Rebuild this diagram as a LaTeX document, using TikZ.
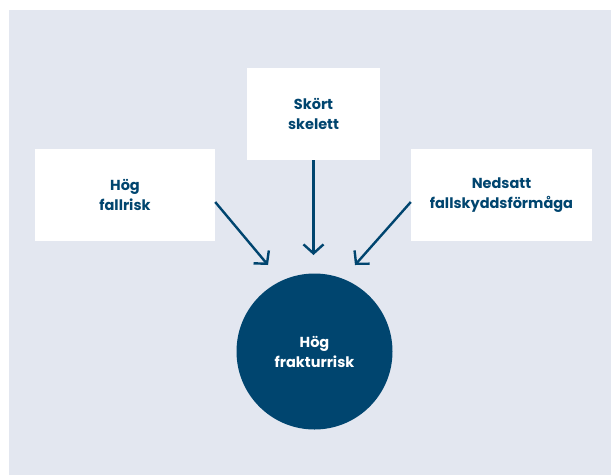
\documentclass[tikz,border=0pt]{standalone}
\usepackage{fontspec}
\setmainfont{Poppins}
\usetikzlibrary{arrows.meta}
\definecolor{bg}{HTML}{E3E7F0}
\definecolor{navy}{HTML}{00456F}
\begin{document}
\begin{tikzpicture}[x=1pt,y=-1pt,
  box/.style={fill=white, draw=none, minimum width=#1, minimum height=92pt, inner sep=0pt,
    align=center, text=navy, font=\fontsize{14.5}{20}\selectfont\bfseries},
  conn/.style={draw=navy, line width=2.4pt, -{Straight Barb[length=9pt,width=20pt]}}]
\useasboundingbox (0,0) rectangle (611,475);
\fill[bg] (9,10) rectangle (611,475);
\node[box=180pt] (fall) at (125,195) {Hög\\fallrisk};
\node[box=133pt] (skort) at (313.5,114) {Skört\\skelett};
\node[box=181pt] (ned) at (501.5,195) {Nedsatt\\fallskyddsförmåga};
\node[circle, fill=navy, minimum size=156pt, inner sep=0pt, align=center, text=white,
  font=\fontsize{14.5}{20}\selectfont\bfseries] (frak) at (314.5,351.5) {Hög\\frakturrisk};
\coordinate (tl) at (268,265);
\coordinate (tm) at (313.5,255);
\coordinate (tr) at (355,265);
\draw[conn] (fall.east |- 0,202) -- (tl);
\draw[conn] (skort.south) -- (tm);
\draw[conn] (ned.west |- 0,202) -- (tr);
\end{tikzpicture}
\end{document}
